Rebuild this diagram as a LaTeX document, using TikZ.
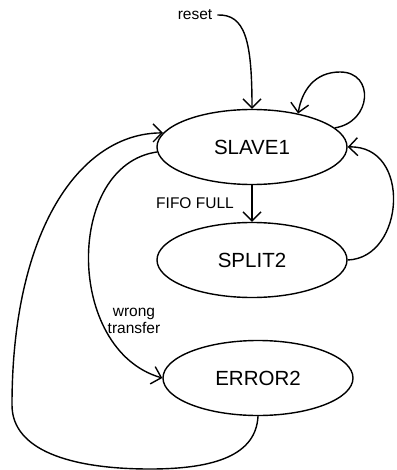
\documentclass[tikz,border=0pt]{standalone}
\usepackage{fontspec}
\setmainfont{Liberation Sans}
\usetikzlibrary{shapes.geometric,arrows.meta}
\tikzset{
  state/.style={ellipse,draw,line width=1.4pt,minimum width=190pt,minimum height=75pt,inner sep=0pt,font=\fontsize{20.5}{24}\selectfont},
  lbl/.style={font=\fontsize{15.5}{17}\selectfont,inner sep=0pt,align=center},
  trans/.style={line width=1.4pt,-{Straight Barb[length=9pt,width=18pt,line width=1.4pt]}},
}
\begin{document}
\begin{tikzpicture}[x=1pt,y=-1pt]
\useasboundingbox (0,0) rectangle (396,470);

\node[state] (S) at (252,147) {SLAVE1};
\node[state] (P) at (252,260) {SPLIT2};
\node[state] (E) at (258,378) {ERROR2};

\node[lbl] (rs) at (195,15) {reset};
\node[lbl] (ff) at (195,203) {FIFO FULL};
\node[lbl] (wt) at (134,321) {wrong\\transfer};

% reset entry
\draw[trans] ([xshift=5pt]rs.east) .. controls (245,14) and (252,40) .. (S.north);

% self loop on SLAVE1
\draw[trans] (S.13) .. controls (372,122) and (375,72) .. (340,72)
  .. controls (315,72) and (302,90) .. (S.36);

% SLAVE1 -> SPLIT2
\draw[trans] (S.south) -- (P.north);

% SPLIT2 -> SLAVE1
\draw[trans] (P.east) .. controls (405,258) and (412,145) .. (S.east);

% SLAVE1 -> ERROR2
\draw[trans] (S.183) .. controls (65,165) and (65,350) .. (E.west);

% ERROR2 -> SLAVE1
\draw[trans] (E.south) .. controls (256,455) and (215,469) .. (150,469)
  .. controls (70,469) and (12,450) .. (12,405)
  .. controls (12,230) and (80,133) .. (S.171);
\end{tikzpicture}
\end{document}
